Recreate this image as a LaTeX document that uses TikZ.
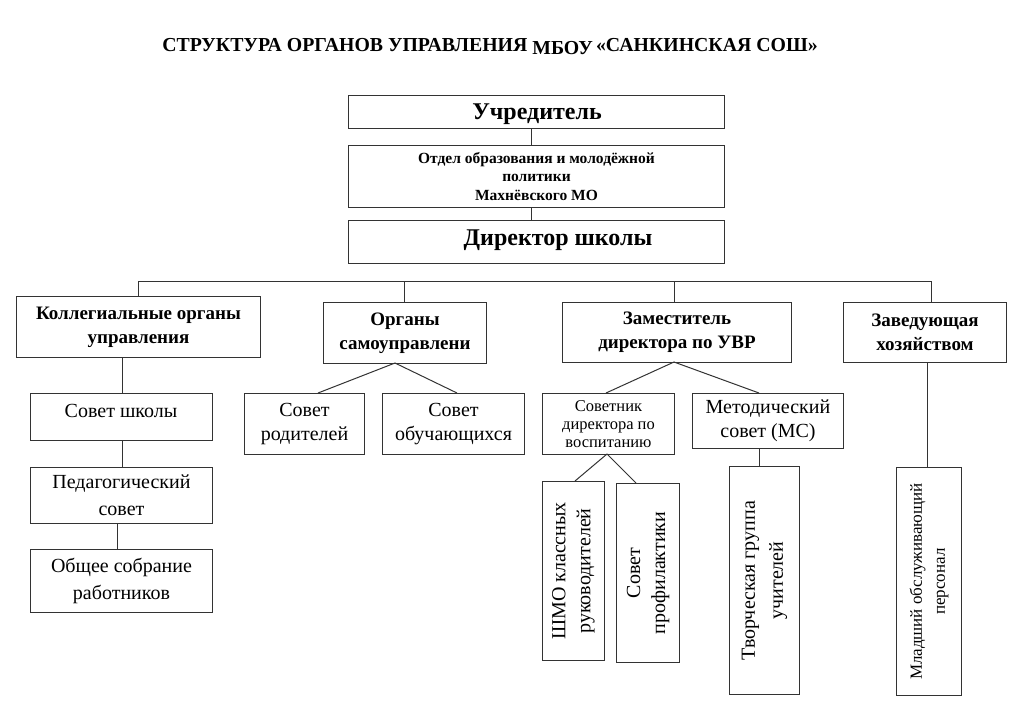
\documentclass[tikz,border=0pt]{standalone}
\usepackage{fontspec}
\setmainfont{Liberation Serif}
\begin{document}
\begin{tikzpicture}[x=1pt,y=-1pt,
  box/.style={draw=black!80,line width=1pt,rectangle,inner sep=0pt,align=center,anchor=north west},
  hb/.style={font=\bfseries\fontsize{19}{24}\selectfont},
  rg/.style={font=\fontsize{20}{27}\selectfont},
  rs/.style={font=\fontsize{20}{24}\selectfont},
  vt/.style={rotate=90,align=center,inner sep=0pt},
  ln/.style={draw=black!80,line width=1pt}]
\useasboundingbox[fill=white] (0,0) rectangle (1024,724);
\node[font=\bfseries\fontsize{19.8}{24}\selectfont] (title) at (490,47) {СТРУКТУРА ОРГАНОВ УПРАВЛЕНИЯ \raisebox{-3pt}{МБОУ}\,«САНКИНСКАЯ СОШ»};
% top chain
\node[box,minimum width=376,minimum height=33] (uch) at (348,95) {};
\node[font=\bfseries\fontsize{24}{28}\selectfont] (uchT) at (537,114) {Учредитель};
\node[box,minimum width=376,minimum height=62,font=\bfseries\fontsize{15.5}{18.5}\selectfont] (otd) at (348,145) {Отдел образования и молодёжной\\политики\\Махнёвского МО};
\node[box,minimum width=376,minimum height=43] (dir) at (348,220) {};
\node[font=\bfseries\fontsize{24}{28}\selectfont] (dirT) at (558,240) {Директор школы};
\draw[ln] ([xshift=-5pt]uch.south) -- ([xshift=-5pt]otd.north);
\draw[ln] ([xshift=-5pt]otd.south) -- ([xshift=-5pt]dir.north);
% second level
\node[box,hb,minimum width=244,minimum height=61] (kol) at (16,296) {Коллегиальные органы\\управления};
\node[box,hb,minimum width=163,minimum height=61] (org) at (323,302) {Органы\\самоуправлени};
\node[box,hb,minimum width=229,minimum height=60] (zam) at (562,302) {Заместитель\\директора по УВР};
\node[box,hb,minimum width=163,minimum height=60] (zav) at (843,302) {Заведующая\\хозяйством};
% bus
\coordinate (b1) at (138,281);
\coordinate (b4) at (931,281);
\draw[ln] (kol.north -| b1) -- (b1) -- (b4) -- (zav.north -| b4);
\draw[ln] ([xshift=-0.5pt]org.north) -- ([xshift=-0.5pt]org.north |- b1);
\draw[ln] ([xshift=-2.5pt]zam.north) -- ([xshift=-2.5pt]zam.north |- b1);
% left column
\node[box,minimum width=182,minimum height=47] (sov) at (30,393) {};
\node[rg] (sovT) at (121,411) {Совет школы};
\node[box,rg,minimum width=182,minimum height=56] (ped) at (30,467) {Педагогический\\совет};
\node[box,rg,minimum width=182,minimum height=63] (obs) at (30,549) {Общее собрание\\работников};
\draw[ln] ([xshift=1pt]sov.north) -- ([xshift=1pt]sov.north |- kol.south);
\draw[ln] ([xshift=1pt]sov.south) -- ([xshift=1pt]ped.north);
\draw[ln] ([xshift=-4pt]ped.south) -- ([xshift=-4pt]obs.north);
% self-government
\node[box,rs,minimum width=120,minimum height=61] (rod) at (244,393) {Совет\\родителей};
\node[box,rs,minimum width=142,minimum height=61] (obu) at (382,393) {Совет\\обучающихся};
\coordinate (oj) at (395,363);
\draw[ln] (rod.north -| 318,0) -- (oj) -- (obu.north -| 457,0);
% deputy
\node[box,font=\fontsize{16.5}{18}\selectfont,minimum width=132,minimum height=61] (stn) at (542,393) {Советник\\директора по\\воспитанию};
\node[box,rs,minimum width=151,minimum height=55] (met) at (692,393) {Методический\\совет (МС)};
\coordinate (zj) at (674,362);
\draw[ln] (stn.north -| 606,0) -- (zj) -- (met.north -| 759,0);
\node[box,minimum width=62,minimum height=179] (shmo) at (542,481) {};
\node[vt,font=\fontsize{20}{25}\selectfont] (shmoT) at (shmo.center) {ШМО классных\\руководителей};
\node[box,minimum width=63,minimum height=179] (prof) at (616,483) {};
\node[vt,font=\fontsize{20}{25}\selectfont] (profT) at (prof.center) {Совет\\профилактики};
\coordinate (sj) at (607,454);
\draw[ln] (shmo.north -| 575,0) -- (sj) -- (prof.north -| 636,0);
\node[box,minimum width=70,minimum height=228] (tvor) at (729,466) {};
\node[vt,font=\fontsize{20}{28}\selectfont] (tvorT) at (tvor.center) {Творческая группа\\учителей};
\draw[ln] (met.south -| 759,0) -- (tvor.north -| 759,0);
% household
\node[box,minimum width=65,minimum height=228] (mlad) at (896,467) {};
\node[vt,font=\fontsize{17}{23}\selectfont] (mladT) at (mlad.center) {Младший обслуживающий\\персонал};
\draw[ln] (zav.south -| 927,0) -- (mlad.north -| 927,0);
\end{tikzpicture}
\end{document}
